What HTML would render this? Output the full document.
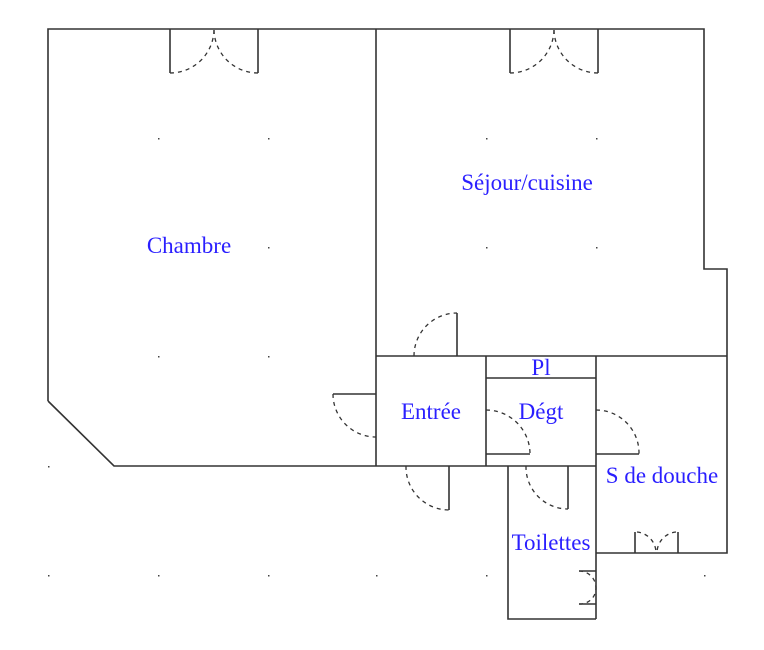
<!DOCTYPE html>
<html><head><meta charset="utf-8"><style>
html,body{margin:0;padding:0;background:#fff;}
svg{display:block}
text{font-family:"Liberation Serif",serif;font-size:23px;fill:#2a1fff;text-anchor:middle}
</style></head><body>
<svg width="764" height="650" viewBox="0 0 764 650" xmlns="http://www.w3.org/2000/svg">
<g stroke="#333" stroke-width="1.6" fill="none">
<polyline points="48,401 48,29 704,29 704,269 727,269 727,553 596,553"/>
<polyline points="48,401 114,466 596,466"/>
<line x1="376" y1="29" x2="376" y2="466"/>
<line x1="376" y1="356" x2="727" y2="356"/>
<line x1="486" y1="356" x2="486" y2="466"/>
<line x1="486" y1="378" x2="596" y2="378"/>
<line x1="596" y1="356" x2="596" y2="619"/>
<polyline points="508,466 508,619 596,619"/>
<line x1="170" y1="29" x2="170" y2="73"/>
<line x1="258" y1="29" x2="258" y2="73"/>
<line x1="510" y1="29" x2="510" y2="73"/>
<line x1="598" y1="29" x2="598" y2="73"/>
<line x1="457" y1="313" x2="457" y2="356"/>
<line x1="333" y1="394" x2="376" y2="394"/>
<line x1="449" y1="466" x2="449" y2="510"/>
<line x1="486" y1="454" x2="530" y2="454"/>
<line x1="568" y1="466" x2="568" y2="509"/>
<line x1="596" y1="454" x2="639" y2="454"/>
<line x1="635" y1="532" x2="635" y2="553"/>
<line x1="678" y1="532" x2="678" y2="553"/>
<line x1="579" y1="571" x2="596" y2="571"/>
<line x1="579" y1="604" x2="596" y2="604"/>
</g>
<g stroke="#333" stroke-width="1.3" fill="none" stroke-dasharray="4,4">
<path d="M170,73 A44,44 0 0 0 214,29"/>
<path d="M258,73 A44,44 0 0 1 214,29"/>
<path d="M510,73 A44,44 0 0 0 554,29"/>
<path d="M598,73 A44,44 0 0 1 554,29"/>
<path d="M414,356 A43,43 0 0 1 457,313"/>
<path d="M333,394 A43,43 0 0 0 376,437"/>
<path d="M406,466 A43,43 0 0 0 449,510"/>
<path d="M486,410 A44,44 0 0 1 530,454"/>
<path d="M526,466 A42,42 0 0 0 568,509"/>
<path d="M596,410 A43,43 0 0 1 639,454"/>
<path d="M637,532 A21,21 0 0 1 656,553"/>
<path d="M676,532 A21,21 0 0 0 657,553"/>
<path d="M579,571 A17,17 0 0 1 596,588"/>
<path d="M579,604 A16,16 0 0 0 596,588"/>
</g>
<g fill="#444">
<rect x="158" y="138" width="1.5" height="1.5"/><rect x="268" y="138" width="1.5" height="1.5"/>
<rect x="486" y="138" width="1.5" height="1.5"/><rect x="596" y="138" width="1.5" height="1.5"/>
<rect x="268" y="247" width="1.5" height="1.5"/><rect x="486" y="247" width="1.5" height="1.5"/><rect x="596" y="247" width="1.5" height="1.5"/>
<rect x="158" y="356" width="1.5" height="1.5"/><rect x="268" y="356" width="1.5" height="1.5"/>
<rect x="48" y="466" width="1.5" height="1.5"/>
<rect x="48" y="575" width="1.5" height="1.5"/><rect x="158" y="575" width="1.5" height="1.5"/><rect x="268" y="575" width="1.5" height="1.5"/>
<rect x="376" y="575" width="1.5" height="1.5"/><rect x="486" y="575" width="1.5" height="1.5"/><rect x="704" y="575" width="1.5" height="1.5"/>
</g>
<g style="fill:#2222ff">
<text x="189" y="253">Chambre</text>
<text x="527" y="190">Séjour/cuisine</text>
<text x="431" y="419">Entrée</text>
<text x="541" y="375">Pl</text>
<text x="541" y="419">Dégt</text>
<text x="662" y="483">S de douche</text>
<text x="551" y="550">Toilettes</text>
</g>
</svg>
</body></html>
